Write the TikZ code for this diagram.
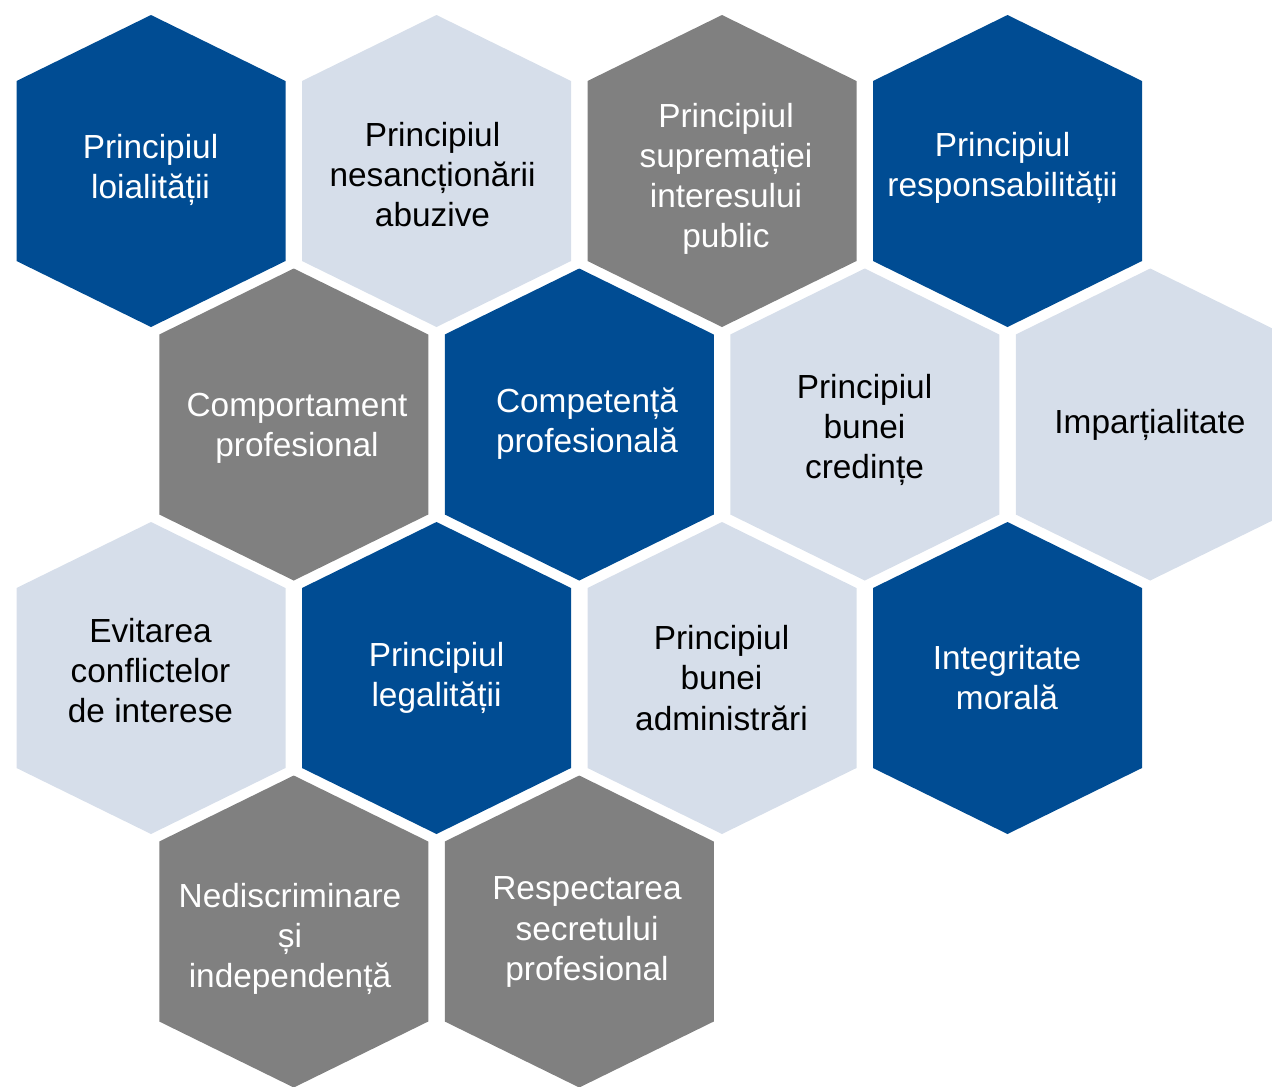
\documentclass[tikz,border=0pt]{standalone}
\usepackage{fontspec}
\setmainfont{Liberation Sans}
\definecolor{hexblue}{RGB}{0,76,147}
\definecolor{hexmist}{RGB}{214,222,234}
\definecolor{hexgrey}{RGB}{128,128,128}
\tikzset{
  celltext/.style={align=center, inner sep=0pt, font=\fontsize{19}{22.8}\selectfont},
  ontint/.style={celltext, text=white},
  onmist/.style={celltext, text=black}
}
\begin{document}
\begin{tikzpicture}[x=0.02cm, y=-0.02cm]
        \clip (0,0) rectangle (1272,1086);
        % honeycomb
        \foreach \x/\y/\c in {151/171/hexblue, 436.5/171/hexmist, 722/171/hexgrey, 1007.5/171/hexblue,
                293.75/424.5/hexgrey, 579.25/424.5/hexblue, 864.75/424.5/hexmist, 1150.25/424.5/hexmist,
                151/678/hexmist, 436.5/678/hexblue, 722/678/hexmist, 1007.5/678/hexblue,
                293.75/931.5/hexgrey, 579.25/931.5/hexgrey}
            \fill[\c] (\x,\y) +(0,-156) -- +(134.5,-90) -- +(134.5,90) -- +(0,156) -- +(-134.5,90) -- +(-134.5,-90) -- cycle;
        % row 1
        \node[ontint] (loialitate) at (150.5,170) {Principiul\\loialității};
        \node[onmist] (nesanctionare) at (432.5,174.5) {Principiul\\nesancționării\\abuzive};
        \node[ontint] (suprematie) at (726,178.5) {Principiul\\supremației\\interesului\\public};
        \node[ontint] (responsabilitate) at (1002.5,168) {Principiul\\responsabilității};
        % row 2
        \node[ontint] (comportament) at (297,428) {Comportament\\profesional};
        \node[ontint] (competenta) at (587,424) {Competență\\profesională};
        \node[onmist] (credinta) at (864.5,430) {Principiul\\bunei\\credințe};
        \node[onmist] (impartialitate) at (1150,424.5) {Imparțialitate};
        % row 3
        \node[onmist] (conflicte) at (150.5,670.5) {Evitarea\\conflictelor\\de interese};
        \node[ontint] (legalitate) at (436.5,677.5) {Principiul\\legalității};
        \node[onmist] (administrare) at (721.5,678) {Principiul\\bunei\\administrări};
        \node[ontint] (integritate) at (1007,678) {Integritate\\morală};
        % row 4
        \node[ontint] (nediscriminare) at (290,939) {Nediscriminare\\și\\independență};
        \node[ontint] (secret) at (587,932) {Respectarea\\secretului\\profesional};
\end{tikzpicture}
\end{document}
